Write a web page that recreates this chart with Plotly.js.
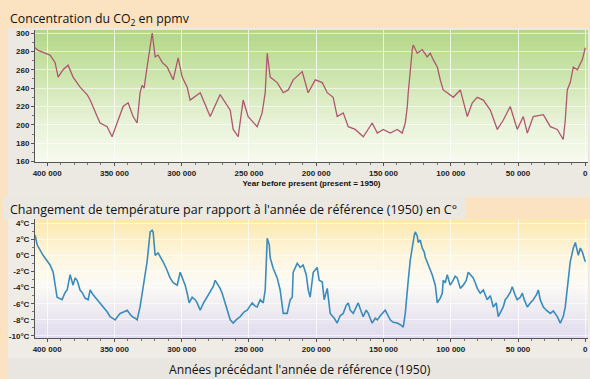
<!DOCTYPE html>
<html><head><meta charset="utf-8">
<script src="https://cdn.plot.ly/plotly-3.0.1.min.js"></script>
<style>html,body{margin:0;padding:0;background:#fbe2c1}#chart{width:590px;height:379px}</style>
</head><body><div id="chart"></div>
<script>
// ---- Data (Vostok ice core) ----
const co2Years = [408900,406700,401500,397800,394100,391800,388100,384400,380700,375500,370300,368000,362800,360600,355400,351700,348000,343500,339800,336100,333100,330900,329400,327900,325700,321900,319700,317500,314500,310800,306300,302600,299600,295900,293700,286200,278800,271400,263900,261700,258000,254300,250600,243900,240200,237900,236400,234200,229000,224500,220800,217100,210400,206000,200700,195500,191800,187400,184400,179900,176200,171000,165000,158400,154600,150200,145000,139800,136100,133800,132300,131600,128600,127900,124900,121200,117500,115200,113000,110000,107800,105600,102600,98100,92900,87700,84000,80300,75800,70600,65400,61000,55800,50600,46100,43100,38700,31200,26000,20800,16400,14900,13400,11200,8900,5900,2200,0];
const co2Ppmv = [284,281,278,276,268,252,260,265,252,241,233,227,209,202,198,187,202,220,224,209,202,235,243,240,263,300,274,276,268,263,249,273,252,241,227,235,209,233,216,195,187,227,209,198,213,235,278,252,246,235,238,249,258,235,249,246,235,230,209,213,198,195,187,202,191,195,191,195,191,202,220,235,282,287,278,282,274,278,271,263,249,238,235,230,238,209,224,230,227,216,195,205,220,195,209,191,209,211,198,195,184,205,238,246,263,260,271,284];

const tempYears = [408900,407400,403000,397800,395500,394100,392600,388900,386600,385100,382900,380700,379200,377700,375500,374000,371800,369500,368000,365800,362800,360600,358400,355400,353200,349400,347200,345700,342800,340500,338300,336800,334600,333100,330900,328600,325700,323400,321900,321200,319700,317500,316000,313800,311500,308600,306300,303300,301100,298900,297400,295900,294400,292200,290000,288500,286200,284000,281000,278800,276600,275100,272900,271400,269900,267700,265400,263900,261700,259500,256500,253500,251300,249100,247600,245400,243900,241600,239400,237900,237200,236400,234900,234200,232000,229000,226800,224500,221600,219300,217800,217100,214100,211900,209700,207400,205900,204500,202200,199300,197800,195500,194100,191800,189600,186600,184400,182200,179900,177700,176200,174700,172500,170300,168800,166500,165100,162800,161300,159900,158400,156100,154600,152400,150900,148700,146500,145000,142800,139800,137500,135300,133800,132300,131600,130100,128600,127100,126400,124900,124200,122700,121200,119700,119000,116700,115200,113800,111500,110000,107800,106300,105600,104100,102600,100400,98900,96700,95200,92900,90700,88500,87000,85500,83300,81800,80300,78100,75800,72900,70600,68400,66200,64700,62500,61000,59500,58000,55800,54300,52000,50600,48300,46800,45400,43100,40900,38700,36400,34900,33500,31200,29000,26000,23800,20800,18600,16400,14900,13400,12600,11200,8900,7400,5200,3700,2200,1500,0];
const tempDelta = [2.5,1.3,0.0,-1.2,-2.1,-3.7,-5.2,-5.5,-4.6,-4.3,-2.4,-3.7,-2.8,-3.1,-4.3,-4.6,-5.3,-5.5,-4.3,-4.9,-5.5,-5.9,-6.4,-7.0,-7.6,-8.0,-7.5,-7.2,-7.0,-6.8,-7.3,-7.6,-7.8,-8.0,-6.4,-3.9,-0.8,2.9,3.1,2.9,0.0,0.3,-0.1,-0.8,-1.6,-2.8,-3.4,-3.7,-2.1,-3.1,-3.7,-4.7,-5.9,-5.2,-5.5,-5.9,-6.8,-6.0,-5.2,-4.6,-3.9,-3.1,-3.7,-4.1,-4.7,-5.9,-7.0,-8.0,-8.4,-8.0,-7.6,-7.0,-6.8,-6.3,-5.9,-6.3,-6.4,-5.5,-5.9,-4.3,-0.8,2.1,1.3,-0.3,-1.6,-2.8,-4.3,-7.2,-7.2,-5.5,-5.2,-2.1,-1.0,-1.5,-1.2,-2.4,-4.3,-5.2,-2.1,-1.5,-3.1,-3.3,-5.5,-4.1,-7.2,-7.8,-8.4,-7.5,-7.2,-6.2,-5.9,-6.8,-7.2,-6.3,-5.9,-7.0,-7.6,-6.8,-7.2,-7.8,-8.4,-7.8,-8.0,-7.5,-7.2,-6.8,-7.5,-8.0,-8.3,-8.4,-8.6,-8.9,-7.2,-4.9,-3.1,-0.6,1.3,2.5,2.9,2.4,1.6,1.9,0.9,0.4,-0.2,-1.2,-1.8,-2.4,-3.7,-5.9,-5.3,-4.7,-3.1,-3.4,-2.4,-3.7,-3.3,-2.6,-2.8,-4.1,-3.7,-3.1,-2.1,-2.4,-2.8,-3.4,-4.1,-4.7,-4.3,-5.5,-5.0,-6.4,-5.9,-7.6,-6.8,-6.4,-5.5,-5.2,-4.6,-3.9,-5.0,-5.5,-5.2,-4.7,-5.5,-6.4,-5.9,-5.5,-4.9,-4.3,-5.5,-6.4,-6.8,-7.2,-6.9,-7.6,-8.4,-7.6,-6.4,-4.3,-3.1,-0.8,0.9,1.6,0.0,0.9,0.4,0.0,-0.8];

const xTickVals = [400000,350000,300000,250000,200000,150000,100000,50000,0];
const xTickText = ['400 000','350 000','300 000','250 000','200 000','150 000','100 000','50 000','0'];
const co2TickVals = [160,180,200,220,240,260,280,300];
const tempTickVals = [-10,-8,-6,-4,-2,0,2,4];
const tempTickText = ['-10°C','-8°C','-6°C','-4°C','-2°C','0°C','2°C','4°C'];

// ---- helpers for gradient backgrounds ----
function hex2rgb(h){return [parseInt(h.slice(1,3),16),parseInt(h.slice(3,5),16),parseInt(h.slice(5,7),16)];}
function interp(stops,t){
  for(let i=0;i<stops.length-1;i++){
    const a=stops[i],b=stops[i+1];
    if(t<=b[0]){const f=(t-a[0])/(b[0]-a[0]);const ca=hex2rgb(a[1]),cb=hex2rgb(b[1]);
      return 'rgb('+ca.map((v,k)=>Math.round(v+(cb[k]-v)*f)).join(',')+')';}
  }
  return stops[stops.length-1][1];
}
function gradient(xr,yr,stops,n){
  const out=[];
  for(let i=0;i<n;i++){
    const t0=i/n,t1=(i+1)/n;
    out.push({type:'rect',xref:xr+' domain',yref:yr+' domain',x0:0,x1:1,y0:Math.max(0,1-t1-0.004),y1:1-t0,
      fillcolor:interp(stops,(t0+t1)/2),line:{width:0},layer:'below'});
  }
  return out;
}
const W=590,H=379;
function px(x){return x/W;} function py(y){return 1-y/H;}
const grey='#ece9e2';
const panels=[
  {type:'rect',xref:'paper',yref:'paper',x0:px(8),x1:1,y0:py(197),y1:py(28),fillcolor:grey,line:{width:0},layer:'below'},
  {type:'rect',xref:'paper',yref:'paper',x0:px(3),x1:px(465),y0:py(219),y1:py(197),fillcolor:'#ebe8e2',line:{width:0},layer:'below'},
  {type:'rect',xref:'paper',yref:'paper',x0:px(8),x1:1,y0:py(358),y1:py(219),fillcolor:'#eeece4',line:{width:0},layer:'below'},
  {type:'rect',xref:'paper',yref:'paper',x0:px(8),x1:1,y0:0,y1:py(358),fillcolor:'#e9e6e1',line:{width:0},layer:'below'}
];
const shapes=panels
  .concat(gradient('x','y',[[0,'#b2d786'],[0.35,'#cde5ad'],[0.7,'#e8f2d8'],[1,'#f7faef']],60))
  .concat(gradient('x2','y2',[[0,'#fce8ae'],[0.3,'#fdf5dd'],[0.55,'#fbfaf5'],[1,'#e1dbef']],60));

const tickFont={family:'Liberation Sans, Arial, sans-serif',size:8,color:'#222',weight:'bold'};
const textFamily='Open Sans, Noto Sans, sans-serif';
const commonX={range:[409000,-2000],tickmode:'array',tickvals:xTickVals,ticktext:xTickText,ticks:'outside',ticklen:3,tickcolor:'#555',
  showline:true,linecolor:'#555',linewidth:1,showgrid:true,gridcolor:'rgba(255,255,255,0.75)',gridwidth:1,zeroline:false,tickfont:tickFont,
  minor:{dtick:10000,tick0:0,ticks:'outside',ticklen:2,tickcolor:'#777',showgrid:false},fixedrange:true};
const commonY={ticks:'outside',ticklen:3,tickcolor:'#555',showline:true,linecolor:'#555',linewidth:1,showgrid:true,
  gridcolor:'rgba(255,255,255,0.6)',gridwidth:1,zeroline:false,tickfont:tickFont,fixedrange:true};

const data=[
  {type:'scatter',mode:'lines',x:co2Years,y:co2Ppmv,xaxis:'x',yaxis:'y',line:{color:'#b0566f',width:1.3},hoverinfo:'skip'},
  {type:'scatter',mode:'lines',x:tempYears,y:tempDelta,xaxis:'x2',yaxis:'y2',line:{color:'#3a8cbd',width:1.6},hoverinfo:'skip'}
];
const layout={
  width:W,height:H,margin:{l:0,r:0,t:0,b:0},paper_bgcolor:'#fbe2c1',plot_bgcolor:'rgba(0,0,0,0)',showlegend:false,
  xaxis:Object.assign({},commonX,{domain:[px(35),px(588)],anchor:'y',
    title:{text:'Year before present (present = 1950)',font:{family:'Liberation Sans, Arial, sans-serif',size:8,color:'#111',weight:'bold'},standoff:3}}),
  yaxis:Object.assign({},commonY,{domain:[py(162),py(30)],anchor:'x',range:[159.5,303.3],tickmode:'array',tickvals:co2TickVals,
    minor:{dtick:10,ticks:'outside',ticklen:2,tickcolor:'#777',showgrid:false}}),
  xaxis2:Object.assign({},commonX,{domain:[px(35),px(588)],anchor:'y2'}),
  yaxis2:Object.assign({},commonY,{domain:[py(338),py(219)],anchor:'x2',range:[-10.25,4.5],tickmode:'array',tickvals:tempTickVals,ticktext:tempTickText,
    minor:{dtick:1,ticks:'outside',ticklen:2,tickcolor:'#777',showgrid:false}}),
  shapes:shapes,
  annotations:[
    {xref:'paper',yref:'paper',x:px(8),y:py(19),xanchor:'left',yanchor:'middle',showarrow:false,text:'Concentration du CO<sub>2</sub> en ppmv',font:{family:textFamily,size:12.3,color:'#111'}},
    {xref:'paper',yref:'paper',x:px(8),y:py(209),xanchor:'left',yanchor:'middle',showarrow:false,text:"Changement de température par rapport à l'année de référence (1950) en C°",font:{family:textFamily,size:12.5,color:'#111'}},
    {xref:'paper',yref:'paper',x:px(300),y:py(369),xanchor:'center',yanchor:'middle',showarrow:false,text:"Années précédant l'année de référence (1950)",font:{family:textFamily,size:12.2,color:'#111'}}
  ]
};
Plotly.newPlot('chart',data,layout,{displayModeBar:false,staticPlot:true});
</script></body></html>
